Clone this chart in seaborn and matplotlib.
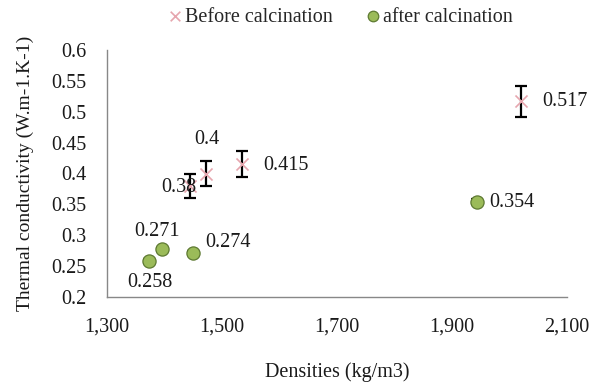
import matplotlib
matplotlib.use("Agg")
import matplotlib.pyplot as plt
import seaborn as sns
import pandas as pd

# Data
before_x = [1445, 1472, 1535, 2020]
before_y = [0.38, 0.40, 0.415, 0.517]
before_err = [0.019, 0.02, 0.021, 0.025]
before_labels = ["0.38", "0.4", "0.415", "0.517"]

after_x = [1373, 1396, 1450, 1943]
after_y = [0.258, 0.277, 0.272, 0.354]
after_err = [0.003, 0.003, 0.003, 0.004]
after_labels = ["0.258", "0.271", "0.274", "0.354"]

x_ticks = [1300, 1500, 1700, 1900, 2100]
x_ticklabels = ["1,300", "1,500", "1,700", "1,900", "2,100"]
y_ticks = [0.2, 0.25, 0.3, 0.35, 0.4, 0.45, 0.5, 0.55, 0.6]
y_ticklabels = ["0.2", "0.25", "0.3", "0.35", "0.4", "0.45", "0.5", "0.55", "0.6"]

sns.set_style("white")
plt.rcParams["font.family"] = ["Liberation Serif", "DejaVu Serif"]

fig = plt.figure(figsize=(5.97, 3.85), dpi=100)
ax = fig.add_axes([107 / 597, 1 - 297 / 385, (567 - 107) / 597, (297 - 50) / 385])

df_b = pd.DataFrame({"x": before_x, "y": before_y})
df_a = pd.DataFrame({"x": after_x, "y": after_y})

ax.errorbar(before_x, before_y, yerr=before_err, fmt="none", ecolor="black",
            elinewidth=1.6, capsize=4, capthick=1.6, zorder=2)
ax.errorbar(after_x, after_y, yerr=after_err, fmt="none", ecolor="black",
            elinewidth=1.6, capsize=4, capthick=1.6, zorder=2)

sns.scatterplot(data=df_b, x="x", y="y", ax=ax, marker="x", s=75,
                color="#E6A6AE", linewidth=1.2, label="Before calcination", zorder=3)
sns.scatterplot(data=df_a, x="x", y="y", ax=ax, marker="o", s=90,
                color="#9BBB59", edgecolor="#5E7A32", linewidth=0.9,
                label="after calcination", zorder=4)

fs = 14.5
b_off = [(-12, -2, "center"), (1, 34, "center"), (21, -1, "left"), (21, 0, "left")]
for x, y, t, (dx, dy, ha) in zip(before_x, before_y, before_labels, b_off):
    ax.annotate(t, (x, y), xytext=(dx, dy), textcoords="offset pixels",
                ha=ha, va="center", fontsize=fs, color="#1a1a1a", zorder=5)
a_off = [(1, -21, "center"), (-5, 18, "center"), (12, 10, "left"), (13, -1, "left")]
for x, y, t, (dx, dy, ha) in zip(after_x, after_y, after_labels, a_off):
    ax.annotate(t, (x, y), xytext=(dx, dy), textcoords="offset pixels",
                ha=ha, va="center", fontsize=fs, color="#1a1a1a", zorder=5)

ax.set_xlim(1300, 2100)
ax.set_ylim(0.2, 0.6)
ax.set_xticks(x_ticks)
ax.set_xticklabels(x_ticklabels, fontsize=fs)
ax.set_yticks(y_ticks)
ax.set_yticklabels(y_ticklabels, fontsize=fs)
ax.tick_params(axis="both", direction="out", length=5, width=1, color="#888888",
               labelcolor="#1a1a1a")
ax.tick_params(axis="y", pad=10)
ax.tick_params(axis="x", pad=10)
for s in ["top", "right"]:
    ax.spines[s].set_visible(False)
for s in ["left", "bottom"]:
    ax.spines[s].set_color("#888888")
    ax.spines[s].set_linewidth(1)

ax.set_xlabel("Densities (kg/m3)", fontsize=fs, color="#1a1a1a", labelpad=18)
ax.set_ylabel("Thermal conductivity (W.m-1.K-1)", fontsize=14, color="#1a1a1a", labelpad=12)

ax.legend(loc="upper center", bbox_to_anchor=(0.504, 1.245), ncol=2, frameon=False,
          fontsize=fs, handletextpad=0.0, columnspacing=1.45, markerscale=0.8,
          handlelength=1.0)

fig.savefig("out.png", dpi=100)
